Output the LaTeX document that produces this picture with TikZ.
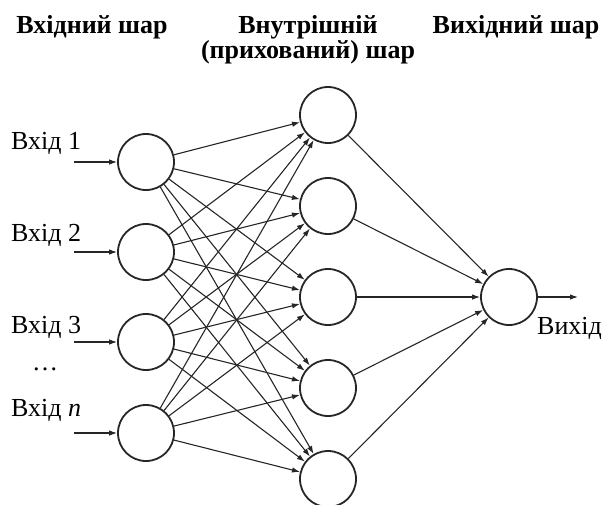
\documentclass[tikz,border=0pt]{standalone}
\usepackage{fontspec}
\setmainfont{Liberation Serif}
\usetikzlibrary{arrows.meta}
\begin{document}
\begin{tikzpicture}[x=1pt,y=-1pt,
  neuron/.style={circle,draw=black!85,line width=1.8pt,minimum size=56pt,inner sep=0pt},
  conn/.style={draw=black!85,line width=1.1pt,-{Latex[length=8pt,width=5.5pt]}},
  title/.style={font=\fontsize{26}{22}\selectfont\bfseries,anchor=base,inner sep=0pt,align=center},
  lbl/.style={font=\fontsize{26}{28}\selectfont,anchor=base west,inner sep=0pt}]
\useasboundingbox (0,0) rectangle (609,504);
% titles
\node[title] (t1) at (92,33) {Вхідний шар};
\node[title] (t2) at (308,58) {Внутрішній\\(прихований) шар};
\node[title] (t3) at (516,33) {Вихідний шар};
% input neurons
\foreach \i/\y in {1/162,2/252,3/342,4/433}{
  \node[neuron] (i\i) at (146,\y) {};
  \coordinate (s\i) at (74,\y);
  \draw[conn] (s\i) -- (i\i);
}
% hidden neurons
\foreach \j/\y in {1/115,2/206,3/297,4/388,5/479}{
  \node[neuron] (h\j) at (328,\y) {};
}
% output neuron
\node[neuron] (o) at (509,297) {};
\coordinate (oe) at (578,297);
\draw[conn] (o) -- (oe);
% labels
\node[lbl] (l1) at (11,149) {Вхід 1};
\node[lbl] (l2) at (11,241) {Вхід 2};
\node[lbl] (l3) at (11,333) {Вхід 3};
\node[lbl] (ld) at (32,370) {\dots};
\node[lbl] (l4) at (11,416) {Вхід \textit{n}};
\node[lbl] (lo) at (537,334) {Вихід};
% connections
\foreach \i in {1,...,4}{
  \foreach \j in {1,...,5}{
    \draw[conn] (i\i) -- (h\j);
  }
}
\foreach \j in {1,...,5}{
  \draw[conn] (h\j) -- (o);
}
\end{tikzpicture}
\end{document}
